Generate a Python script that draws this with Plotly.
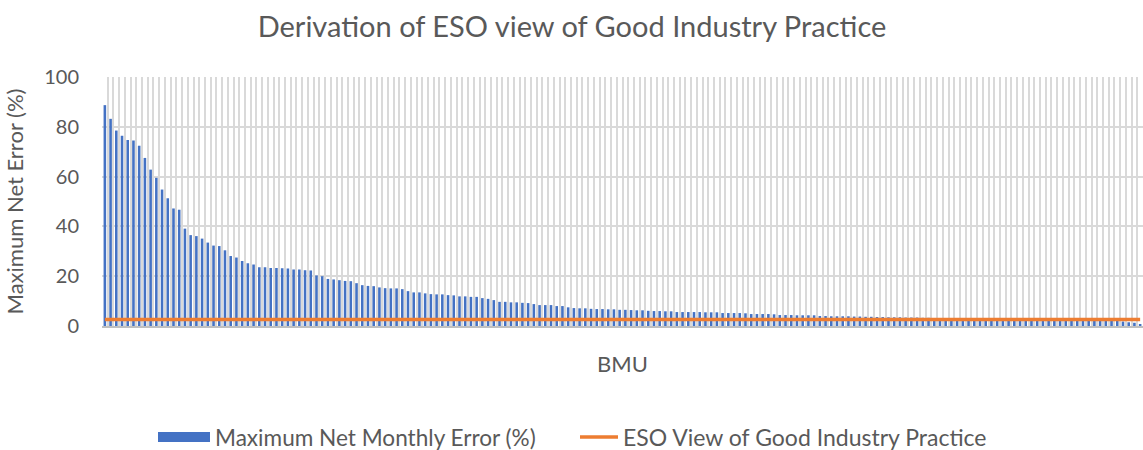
import plotly.graph_objects as go

bmu_index = list(range(1, 183))

max_net_monthly_error = [
    88.7, 83.2, 78.5, 76.4, 74.7, 74.5, 72.4, 67.5, 62.8, 59.5,
    54.8, 51.3, 47.2, 46.7, 39.1, 36.5, 36.1, 35.1, 33.5, 32.3,
    32.1, 30.4, 28.1, 27.5, 26.1, 25.2, 24.7, 23.6, 23.6, 23.3,
    23.3, 23.2, 23.1, 22.7, 22.7, 22.4, 22.3, 20.3, 20.0, 18.9,
    18.7, 18.4, 18.1, 18.0, 17.2, 16.4, 16.1, 16.0, 15.5, 15.2,
    15.1, 15.1, 14.8, 14.0, 13.5, 13.5, 13.1, 12.8, 12.7, 12.7,
    12.4, 12.3, 11.9, 11.9, 11.7, 11.7, 11.2, 10.9, 10.4, 9.7,
    9.7, 9.5, 9.5, 9.3, 9.2, 8.8, 8.4, 8.4, 8.4, 8.0,
    8.0, 7.5, 7.2, 7.1, 7.1, 6.9, 6.8, 6.8, 6.7, 6.7,
    6.5, 6.5, 6.4, 6.3, 6.3, 6.1, 6.0, 6.0, 5.9, 5.9,
    5.6, 5.6, 5.6, 5.6, 5.6, 5.5, 5.5, 5.5, 5.2, 5.2,
    5.2, 5.2, 5.1, 4.8, 4.8, 4.8, 4.8, 4.7, 4.4, 4.4,
    4.4, 4.3, 4.3, 4.3, 4.3, 4.0, 4.0, 3.9, 3.9, 3.9,
    3.9, 3.8, 3.8, 3.7, 3.7, 3.6, 3.6, 3.5, 3.5, 3.5,
    3.4, 3.4, 3.4, 3.3, 3.3, 3.2, 3.2, 3.2, 3.1, 3.1,
    3.1, 3.0, 3.0, 3.0, 2.9, 2.9, 2.9, 2.8, 2.8, 2.8,
    2.7, 2.7, 2.6, 2.6, 2.6, 2.5, 2.5, 2.5, 2.4, 2.4,
    2.3, 2.3, 2.3, 2.2, 2.2, 2.1, 2.1, 2.0, 1.8, 1.5,
    1.3, 0.8,
]

good_practice_level = 2.6

title_text = "Derivation of ESO view of Good Industry Practice"
bar_name = "Maximum Net Monthly Error (%)"
line_name = "ESO View of Good Industry Practice"
y_title = "Maximum Net Error (%)"
x_title = "BMU"
y_ticks = [0, 20, 40, 60, 80, 100]

BLUE = "#4472C4"
ORANGE = "#ED7D31"
TEXT = "#595959"
GRID = "#D9D9D9"
FONT = "Lato, 'Open Sans', sans-serif"

fig = go.Figure()
fig.add_trace(go.Bar(
    x=bmu_index, y=max_net_monthly_error, name=bar_name,
    marker=dict(color=BLUE, line=dict(width=0)), showlegend=False,
))
fig.add_trace(go.Scatter(
    x=bmu_index, y=[good_practice_level] * len(bmu_index), name=line_name,
    mode="lines", line=dict(color=ORANGE, width=3.5), showlegend=False,
))

L, R, T, B = 102, 0, 77, 124
W, H = 1143, 450
pw = W - L - R
ph = H - T - B

def px_x(x):
    return (x - L) / pw

def px_y(y):
    return (H - B - y) / ph

# legend (swatches + text)
fig.add_shape(type="rect", xref="paper", yref="paper",
              x0=px_x(158), x1=px_x(210), y0=px_y(442), y1=px_y(432),
              fillcolor=BLUE, line=dict(width=0))
fig.add_annotation(xref="paper", yref="paper", x=px_x(213), y=px_y(437),
                   text=bar_name, showarrow=False, xanchor="left", yanchor="middle",
                   font=dict(family=FONT, size=22.6, color=TEXT))
fig.add_shape(type="line", xref="paper", yref="paper",
              x0=px_x(580), x1=px_x(618), y0=px_y(437), y1=px_y(437),
              line=dict(color=ORANGE, width=3.5))
fig.add_annotation(xref="paper", yref="paper", x=px_x(621), y=px_y(437),
                   text=line_name, showarrow=False, xanchor="left", yanchor="middle",
                   font=dict(family=FONT, size=23, color=TEXT))

fig.update_layout(
    width=W, height=H,
    margin=dict(l=L, r=R, t=T, b=B, pad=0),
    paper_bgcolor="white", plot_bgcolor="white",
    bargap=0.55,
    title=dict(text=title_text, x=572 / W, xanchor="center", y=1 - 27 / H, yanchor="middle",
               font=dict(family=FONT, size=29, color=TEXT)),
    font=dict(family=FONT, color=TEXT),
    xaxis=dict(
        range=[0.5, len(bmu_index) + 0.5], tick0=0.5, dtick=1,
        showgrid=True, gridcolor=GRID, gridwidth=2,
        showticklabels=False, ticks="", zeroline=False,
        showline=True, linecolor="#BFBFBF", linewidth=2,
        title=dict(text=x_title, standoff=30, font=dict(family=FONT, size=22, color=TEXT)),
    ),
    yaxis=dict(
        range=[0, 100], tickvals=y_ticks,
        showgrid=True, gridcolor=GRID, gridwidth=2,
        zeroline=False, showline=False, ticks="",
        ticklabelstandoff=22,
        tickfont=dict(family=FONT, size=20, color=TEXT),
        title=dict(text=y_title, standoff=14, font=dict(family=FONT, size=22, color=TEXT)),
    ),
)

fig.write_html("out.html", config={"displayModeBar": False},
               post_script="document.body.style.margin='0';document.body.style.overflow='hidden';")
